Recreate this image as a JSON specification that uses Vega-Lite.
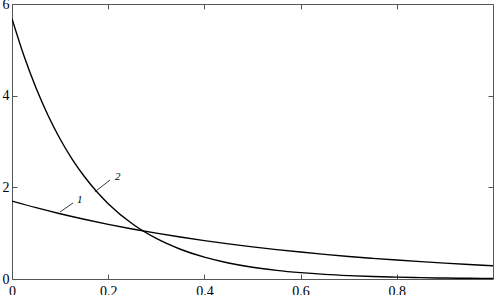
{
  "$schema": "https://vega.github.io/schema/vega-lite/v6.json",
  "width": 481,
  "height": 275,
  "autosize": {"type": "none"},
  "padding": {"left": 12, "top": 4, "right": 1, "bottom": 16},
  "background": "white",
  "config": {
    "view": {"stroke": "#555", "strokeWidth": 1},
    "axis": {"domain": false, "grid": false, "tickColor": "#555", "tickSize": -5, "labelFont": "Liberation Serif", "labelFontSize": 14, "labelColor": "#000", "title": null}
  },
  "datasets": {
    "curves": [
      {"x": 0, "y": 1.7, "s": "1"}, {"x": 0.05, "y": 1.556, "s": "1"}, {"x": 0.1, "y": 1.424, "s": "1"}, {"x": 0.15, "y": 1.304, "s": "1"}, {"x": 0.2, "y": 1.193, "s": "1"}, {"x": 0.25, "y": 1.092, "s": "1"}, {"x": 0.3, "y": 1.0, "s": "1"}, {"x": 0.35, "y": 0.915, "s": "1"}, {"x": 0.4, "y": 0.837, "s": "1"}, {"x": 0.45, "y": 0.767, "s": "1"}, {"x": 0.5, "y": 0.702, "s": "1"}, {"x": 0.55, "y": 0.642, "s": "1"}, {"x": 0.6, "y": 0.588, "s": "1"}, {"x": 0.65, "y": 0.538, "s": "1"}, {"x": 0.7, "y": 0.492, "s": "1"}, {"x": 0.75, "y": 0.451, "s": "1"}, {"x": 0.8, "y": 0.413, "s": "1"}, {"x": 0.85, "y": 0.378, "s": "1"}, {"x": 0.9, "y": 0.346, "s": "1"}, {"x": 0.95, "y": 0.316, "s": "1"}, {"x": 1.0, "y": 0.29, "s": "1"},
      {"x": 0, "y": 5.68, "s": "2"}, {"x": 0.025, "y": 4.864, "s": "2"}, {"x": 0.05, "y": 4.166, "s": "2"}, {"x": 0.075, "y": 3.568, "s": "2"}, {"x": 0.1, "y": 3.055, "s": "2"}, {"x": 0.125, "y": 2.617, "s": "2"}, {"x": 0.15, "y": 2.241, "s": "2"}, {"x": 0.175, "y": 1.919, "s": "2"}, {"x": 0.2, "y": 1.644, "s": "2"}, {"x": 0.25, "y": 1.205, "s": "2"}, {"x": 0.3, "y": 0.884, "s": "2"}, {"x": 0.35, "y": 0.649, "s": "2"}, {"x": 0.4, "y": 0.476, "s": "2"}, {"x": 0.45, "y": 0.349, "s": "2"}, {"x": 0.5, "y": 0.256, "s": "2"}, {"x": 0.55, "y": 0.188, "s": "2"}, {"x": 0.6, "y": 0.138, "s": "2"}, {"x": 0.65, "y": 0.101, "s": "2"}, {"x": 0.7, "y": 0.074, "s": "2"}, {"x": 0.75, "y": 0.054, "s": "2"}, {"x": 0.8, "y": 0.04, "s": "2"}, {"x": 0.85, "y": 0.029, "s": "2"}, {"x": 0.9, "y": 0.021, "s": "2"}, {"x": 0.95, "y": 0.016, "s": "2"}, {"x": 1.0, "y": 0.012, "s": "2"}
    ],
    "labels": [
      {"x1": 0.0997, "y1": 1.46, "x2": 0.127, "y2": 1.66, "tx": 0.135, "ty": 1.73, "t": "1"},
      {"x1": 0.172, "y1": 1.9, "x2": 0.204, "y2": 2.16, "tx": 0.214, "ty": 2.23, "t": "2"}
    ]
  },
  "layer": [
    {
      "data": {"name": "curves"},
      "mark": {"type": "line", "color": "#000", "strokeWidth": 1.4, "interpolate": "monotone", "clip": true},
      "encoding": {
        "x": {"field": "x", "type": "quantitative", "scale": {"domain": [0, 1], "nice": false}, "axis": {"values": [0, 0.2, 0.4, 0.6, 0.8], "format": "~g", "labelPadding": 10, "labelFlush": false}},
        "y": {"field": "y", "type": "quantitative", "scale": {"domain": [0, 6], "nice": false}, "axis": {"values": [0, 2, 4, 6], "labelPadding": 8, "labelFlush": false}},
        "detail": {"field": "s"}
      }
    },
    {
      "data": {"name": "labels"},
      "mark": {"type": "rule", "color": "#222", "strokeWidth": 0.9},
      "encoding": {
        "x": {"field": "x1", "type": "quantitative", "axis": {"orient": "top", "values": [0.2, 0.4, 0.6, 0.8], "labels": false}},
        "y": {"field": "y1", "type": "quantitative", "axis": {"orient": "right", "values": [2, 4], "labels": false}},
        "x2": {"field": "x2"},
        "y2": {"field": "y2"}
      }
    },
    {
      "data": {"name": "labels"},
      "mark": {"type": "text", "font": "Liberation Serif", "fontStyle": "italic", "fontSize": 11, "align": "left", "baseline": "middle", "color": "#000"},
      "encoding": {
        "x": {"field": "tx", "type": "quantitative", "axis": null},
        "y": {"field": "ty", "type": "quantitative", "axis": null},
        "text": {"field": "t"}
      }
    }
  ],
  "resolve": {"axis": {"x": "independent", "y": "independent"}}
}
